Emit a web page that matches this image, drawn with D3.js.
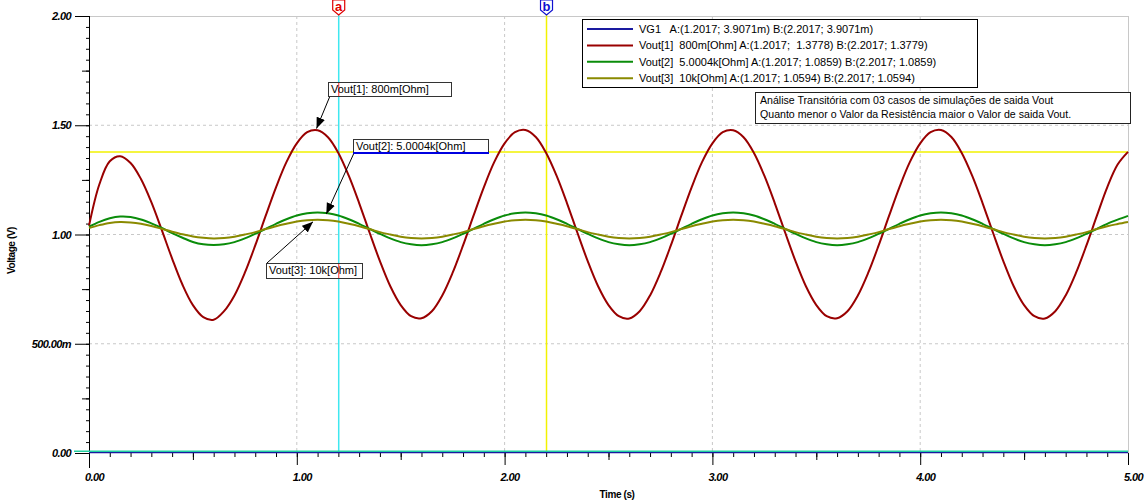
<!DOCTYPE html>
<html>
<head>
<meta charset="utf-8">
<script src="https://cdn.jsdelivr.net/npm/d3@7"></script>
<style>
    body { margin: 0; background: #fff; }
    svg { display: block; font-family: "Liberation Sans", Arial, sans-serif; }
    .tick-label { font-weight: bold; font-style: italic; font-size: 11px; letter-spacing: -0.6px; }
</style>
</head>
<body>
<div id="chart"></div>
<script>
// Sample times (s)
const times = [
    0.00, 0.05, 0.10, 0.15, 0.20, 0.25, 0.30, 0.35, 0.40, 0.45, 0.50, 0.55, 0.60, 0.65, 0.70, 0.75, 0.80, 0.85, 0.90, 0.95,
    1.00, 1.05, 1.10, 1.15, 1.20, 1.25, 1.30, 1.35, 1.40, 1.45, 1.50, 1.55, 1.60, 1.65, 1.70, 1.75, 1.80, 1.85, 1.90, 1.95,
    2.00, 2.05, 2.10, 2.15, 2.20, 2.25, 2.30, 2.35, 2.40, 2.45, 2.50, 2.55, 2.60, 2.65, 2.70, 2.75, 2.80, 2.85, 2.90, 2.95,
    3.00, 3.05, 3.10, 3.15, 3.20, 3.25, 3.30, 3.35, 3.40, 3.45, 3.50, 3.55, 3.60, 3.65, 3.70, 3.75, 3.80, 3.85, 3.90, 3.95,
    4.00, 4.05, 4.10, 4.15, 4.20, 4.25, 4.30, 4.35, 4.40, 4.45, 4.50, 4.55, 4.60, 4.65, 4.70, 4.75, 4.80, 4.85, 4.90, 4.95,
    5.00
];

// Vout[1] 800m[Ohm]
const vout1 = [
    1.040, 1.230, 1.335, 1.358, 1.327, 1.254, 1.148, 1.021, 0.890, 0.770, 0.677, 0.622, 0.610, 0.649, 0.721, 0.825, 0.950, 1.085, 1.216, 1.331,
    1.417, 1.468, 1.477, 1.445, 1.373, 1.269, 1.144, 1.009, 0.878, 0.763, 0.677, 0.626, 0.617, 0.649, 0.721, 0.825, 0.950, 1.085, 1.216, 1.331,
    1.417, 1.468, 1.478, 1.446, 1.373, 1.269, 1.144, 1.009, 0.878, 0.763, 0.677, 0.626, 0.616, 0.649, 0.721, 0.825, 0.950, 1.085, 1.216, 1.331,
    1.417, 1.468, 1.477, 1.445, 1.373, 1.269, 1.144, 1.009, 0.878, 0.763, 0.677, 0.626, 0.617, 0.649, 0.721, 0.825, 0.950, 1.085, 1.216, 1.331,
    1.417, 1.468, 1.478, 1.446, 1.373, 1.269, 1.144, 1.009, 0.878, 0.763, 0.677, 0.626, 0.616, 0.649, 0.721, 0.825, 0.950, 1.085, 1.216, 1.320,
    1.378
];

// Vout[2] 5.0004k[Ohm]
const vout2 = [
    1.036, 1.058, 1.074, 1.082, 1.080, 1.069, 1.051, 1.030, 1.006, 0.985, 0.966, 0.955, 0.952, 0.955, 0.965, 0.982, 1.003, 1.026, 1.049, 1.070,
    1.087, 1.097, 1.101, 1.097, 1.087, 1.070, 1.049, 1.026, 1.003, 0.982, 0.965, 0.955, 0.951, 0.955, 0.965, 0.982, 1.003, 1.026, 1.049, 1.070,
    1.087, 1.097, 1.101, 1.097, 1.087, 1.070, 1.049, 1.026, 1.003, 0.982, 0.965, 0.955, 0.951, 0.955, 0.965, 0.982, 1.003, 1.026, 1.049, 1.070,
    1.087, 1.097, 1.101, 1.097, 1.087, 1.070, 1.049, 1.026, 1.003, 0.982, 0.965, 0.955, 0.951, 0.955, 0.965, 0.982, 1.003, 1.026, 1.049, 1.070,
    1.087, 1.097, 1.101, 1.097, 1.087, 1.070, 1.049, 1.026, 1.003, 0.982, 0.965, 0.955, 0.951, 0.955, 0.965, 0.982, 1.003, 1.026, 1.049, 1.068,
    1.085
];

// Vout[3] 10k[Ohm]
const vout3 = [
    1.030, 1.043, 1.053, 1.057, 1.055, 1.049, 1.039, 1.026, 1.013, 1.001, 0.991, 0.985, 0.982, 0.984, 0.990, 1.000, 1.011, 1.025, 1.038, 1.049,
    1.059, 1.065, 1.067, 1.065, 1.059, 1.049, 1.038, 1.025, 1.011, 1.000, 0.990, 0.984, 0.982, 0.984, 0.990, 1.000, 1.011, 1.025, 1.038, 1.049,
    1.059, 1.065, 1.067, 1.065, 1.059, 1.049, 1.038, 1.025, 1.011, 1.000, 0.990, 0.984, 0.982, 0.984, 0.990, 1.000, 1.011, 1.025, 1.038, 1.049,
    1.059, 1.065, 1.067, 1.065, 1.059, 1.049, 1.038, 1.025, 1.011, 1.000, 0.990, 0.984, 0.982, 0.984, 0.990, 1.000, 1.011, 1.025, 1.038, 1.049,
    1.059, 1.065, 1.067, 1.065, 1.059, 1.049, 1.038, 1.025, 1.011, 1.000, 0.990, 0.984, 0.982, 0.984, 0.990, 1.000, 1.011, 1.025, 1.038, 1.048,
    1.057
];

// VG1 (flat, 3.9071m)
const vg1Times = [0, 5];
const vg1 = [0.0039071, 0.0039071];

// Axis ticks
const yTicks = [0, 0.5, 1.0, 1.5, 2.0];
const yTickLabels = ["0.00", "500.00m", "1.00", "1.50", "2.00"];
const xTicks = [0, 1, 2, 3, 4, 5];
const xTickLabels = ["0.00", "1.00", "2.00", "3.00", "4.00", "5.00"];

// Cursors
const cursorA = 1.2017;
const cursorB = 2.2017;
const cursorBLevel = 1.3779;

// Legend
const legendNames = ["VG1", "Vout[1]", "Vout[2]", "Vout[3]"];
const legendTexts = [
    "VG1   A:(1.2017; 3.9071m) B:(2.2017; 3.9071m)",
    "Vout[1]  800m[Ohm] A:(1.2017;  1.3778) B:(2.2017; 1.3779)",
    "Vout[2]  5.0004k[Ohm] A:(1.2017; 1.0859) B:(2.2017; 1.0859)",
    "Vout[3]  10k[Ohm] A:(1.2017; 1.0594) B:(2.2017; 1.0594)"
];
const noteLines = [
    "Análise Transitória com 03 casos de simulações de saida Vout",
    "Quanto menor o Valor da Resistência maior o Valor de saida Vout."
];

class TransientChart {
    constructor(parentElement) {
        this.parentElement = parentElement;
        this.initVis();
    }

    initVis() {
        let vis = this;

        vis.width = 1147;
        vis.height = 504;
        vis.plot = { left: 89, right: 1128, top: 16, bottom: 453 };

        vis.svg = d3.select("#" + vis.parentElement)
            .append("svg")
            .attr("width", vis.width)
            .attr("height", vis.height);

        vis.svg.append("defs").append("marker")
            .attr("id", "arrow")
            .attr("viewBox", "0 0 10 10")
            .attr("refX", 10)
            .attr("refY", 5)
            .attr("markerWidth", 11)
            .attr("markerHeight", 11)
            .attr("markerUnits", "userSpaceOnUse")
            .attr("orient", "auto")
            .append("path")
            .attr("d", "M0,1 L10,5 L0,9 Z")
            .attr("fill", "#000");

        vis.x = d3.scaleLinear().domain([0, 5]).range([vis.plot.left, vis.plot.right]);
        vis.y = d3.scaleLinear().domain([0, 2]).range([vis.plot.bottom, vis.plot.top]);

        vis.wrangleData();
    }

    wrangleData() {
        let vis = this;
        vis.series = [
            { name: "Vout[1]", color: "#990000", values: times.map((t, i) => ({ t: t, v: vout1[i] })) },
            { name: "Vout[2]", color: "#0a8c0a", values: times.map((t, i) => ({ t: t, v: vout2[i] })) },
            { name: "Vout[3]", color: "#8a8a00", values: times.map((t, i) => ({ t: t, v: vout3[i] })) }
        ];
        vis.vg1 = vg1Times.map((t, i) => ({ t: t, v: vg1[i] }));
        vis.updateVis();
    }

    updateVis() {
        let vis = this;
        const p = vis.plot;

        // Grid (dashed)
        vis.svg.append("g").selectAll("line")
            .data([1, 2, 3, 4])
            .enter().append("line")
            .attr("x1", d => vis.x(d)).attr("x2", d => vis.x(d))
            .attr("y1", p.top).attr("y2", p.bottom)
            .attr("stroke", "#c8c8c8").attr("stroke-dasharray", "3,3");
        vis.svg.append("g").selectAll("line")
            .data([0.5, 1.0, 1.5])
            .enter().append("line")
            .attr("x1", p.left).attr("x2", p.right)
            .attr("y1", d => vis.y(d)).attr("y2", d => vis.y(d))
            .attr("stroke", "#c8c8c8").attr("stroke-dasharray", "3,3");

        // Frame top / right
        vis.svg.append("line")
            .attr("x1", p.left).attr("x2", p.right).attr("y1", p.top + 0.5).attr("y2", p.top + 0.5)
            .attr("stroke", "#c8c8c8");
        vis.svg.append("line")
            .attr("x1", p.right + 0.5).attr("x2", p.right + 0.5).attr("y1", p.top).attr("y2", p.bottom)
            .attr("stroke", "#c8c8c8");

        // Cursor lines
        vis.svg.append("line")
            .attr("x1", p.left).attr("x2", p.right)
            .attr("y1", vis.y(cursorBLevel)).attr("y2", vis.y(cursorBLevel))
            .attr("stroke", "#f2f200").attr("stroke-width", 1.5);
        vis.svg.append("line")
            .attr("x1", vis.x(cursorA)).attr("x2", vis.x(cursorA))
            .attr("y1", 12).attr("y2", p.bottom)
            .attr("stroke", "#3ee8f0").attr("stroke-width", 1.5);
        vis.svg.append("line")
            .attr("x1", vis.x(cursorB)).attr("x2", vis.x(cursorB))
            .attr("y1", 12).attr("y2", p.bottom)
            .attr("stroke", "#f2f200").attr("stroke-width", 1.5);

        // Y axis
        let yMinor = d3.range(0, 41).map(i => i * 0.05);
        let yMid = [0.25, 0.75, 1.25, 1.75];
        vis.svg.append("g")
            .attr("transform", `translate(${p.left},0)`)
            .call(d3.axisLeft(vis.y).tickValues(yMinor).tickSize(3).tickFormat(""))
            .call(g => g.select(".domain").remove());
        vis.svg.append("g")
            .attr("transform", `translate(${p.left},0)`)
            .call(d3.axisLeft(vis.y).tickValues(yMid).tickSize(7).tickFormat(""))
            .call(g => g.select(".domain").remove());
        let yAxisGroup = vis.svg.append("g")
            .attr("transform", `translate(${p.left},0)`)
            .call(d3.axisLeft(vis.y).tickValues(yTicks).tickSize(14).tickPadding(4)
                .tickFormat((d, i) => yTickLabels[i]))
            .call(g => g.select(".domain").remove());
        yAxisGroup.selectAll("text")
            .attr("class", "tick-label")
            .attr("fill", "#000");
        vis.svg.append("line")
            .attr("x1", p.left + 0.5).attr("x2", p.left + 0.5)
            .attr("y1", p.top).attr("y2", 468)
            .attr("stroke", "#000");

        // X axis
        let xMinor = d3.range(0, 51).map(i => i * 0.1);
        let xMid = [0.5, 1.5, 2.5, 3.5, 4.5];
        vis.svg.append("g")
            .attr("transform", `translate(0,${p.bottom})`)
            .call(d3.axisBottom(vis.x).tickValues(xMinor).tickSize(4).tickFormat(""))
            .call(g => g.select(".domain").remove());
        vis.svg.append("g")
            .attr("transform", `translate(0,${p.bottom})`)
            .call(d3.axisBottom(vis.x).tickValues(xMid).tickSize(7).tickFormat(""))
            .call(g => g.select(".domain").remove());
        let xAxisGroup = vis.svg.append("g")
            .attr("transform", `translate(0,${p.bottom})`)
            .call(d3.axisBottom(vis.x).tickValues(xTicks).tickSize(12).tickPadding(8)
                .tickFormat((d, i) => xTickLabels[i]))
            .call(g => g.select(".domain").remove());
        xAxisGroup.selectAll("text")
            .attr("class", "tick-label")
            .attr("fill", "#000")
            .attr("x", 5);

        // Axis titles
        vis.svg.append("text")
            .attr("transform", `translate(15,${(p.top + p.bottom) / 2 + 16}) rotate(-90)`)
            .attr("text-anchor", "middle")
            .style("font-size", "10px")
            .style("font-weight", "bold")
            .style("letter-spacing", "-0.4px")
            .text("Voltage (V)");
        vis.svg.append("text")
            .attr("x", 617)
            .attr("y", 498)
            .attr("text-anchor", "middle")
            .style("font-size", "10px")
            .style("font-weight", "bold")
            .style("letter-spacing", "-0.4px")
            .text("Time (s)");

        // Curves
        let line = d3.line()
            .x(d => vis.x(d.t))
            .y(d => vis.y(d.v))
            .curve(d3.curveCatmullRom);

        vis.svg.append("path")
            .datum(vis.vg1)
            .attr("d", line)
            .attr("fill", "none")
            .attr("stroke", "#1a1aa0")
            .attr("stroke-width", 2);
        vis.svg.append("line")
            .attr("x1", 74).attr("x2", p.right)
            .attr("y1", vis.y(vg1[0]) - 1).attr("y2", vis.y(vg1[0]) - 1)
            .attr("stroke", "#20d0a0").attr("stroke-width", 1.5);

        vis.svg.selectAll(".curve")
            .data(vis.series)
            .enter().append("path")
            .attr("class", "curve")
            .attr("d", d => line(d.values))
            .attr("fill", "none")
            .attr("stroke", d => d.color)
            .attr("stroke-width", 2);

        // Cursor markers
        let markers = [
            { t: cursorA, label: "a", color: "#e00000" },
            { t: cursorB, label: "b", color: "#1010d0" }
        ];
        let mk = vis.svg.selectAll(".marker")
            .data(markers)
            .enter().append("g")
            .attr("class", "marker")
            .attr("transform", d => `translate(${vis.x(d.t)},0)`);
        mk.append("path")
            .attr("d", "M-6,0 L6,0 L6,10 L0,15 L-6,10 Z")
            .attr("fill", "#fff")
            .attr("stroke", d => d.color)
            .attr("stroke-width", 1.2);
        mk.append("text")
            .attr("y", 11)
            .attr("text-anchor", "middle")
            .style("font-size", "13px")
            .style("font-weight", "bold")
            .attr("fill", d => d.color)
            .text(d => d.label);

        // Legend
        let legendColors = { "VG1": "#1a1aa0", "Vout[1]": "#990000", "Vout[2]": "#0a8c0a", "Vout[3]": "#8a8a00" };
        vis.svg.append("rect")
            .attr("x", 582.5).attr("y", 19.5)
            .attr("width", 395).attr("height", 68)
            .attr("fill", "#fff").attr("stroke", "#000");
        let lg = vis.svg.selectAll(".legend")
            .data(legendNames)
            .enter().append("g")
            .attr("class", "legend")
            .attr("transform", (d, i) => `translate(0,${29 + i * 16.4})`);
        lg.append("line")
            .attr("x1", 587).attr("x2", 633)
            .attr("stroke", d => legendColors[d])
            .attr("stroke-width", 2);
        lg.append("text")
            .attr("x", 639)
            .attr("dy", "0.35em")
            .style("font-size", "11px")
            .style("white-space", "pre")
            .attr("fill", "#000")
            .text((d, i) => legendTexts[i]);

        // Note box
        vis.svg.append("rect")
            .attr("x", 755.5).attr("y", 92.5)
            .attr("width", 375).attr("height", 31)
            .attr("fill", "#fff").attr("stroke", "#222");
        vis.svg.selectAll(".note")
            .data(noteLines)
            .enter().append("text")
            .attr("class", "note")
            .attr("x", 760)
            .attr("y", (d, i) => 104 + i * 14)
            .style("font-size", "10.6px")
            .attr("fill", "#000")
            .text(d => d);

        // Curve labels with arrows
        let labels = [
            { text: "Vout[1]: 800m[Ohm]", box: [328, 82, 123, 14], from: [330, 96], to: [1.095, 1.485], blue: false },
            { text: "Vout[2]: 5.0004k[Ohm]", box: [353, 139, 135, 14], from: [354, 153], to: [1.142, 1.094], blue: true },
            { text: "Vout[3]: 10k[Ohm]", box: [266, 263, 96, 15], from: [267, 263], to: [1.078, 1.058], blue: false }
        ];
        labels.forEach(l => {
            vis.svg.append("line")
                .attr("x1", l.from[0]).attr("y1", l.from[1])
                .attr("x2", vis.x(l.to[0])).attr("y2", vis.y(l.to[1]))
                .attr("stroke", "#000")
                .attr("marker-end", "url(#arrow)");
            vis.svg.append("rect")
                .attr("x", l.box[0] + 0.5).attr("y", l.box[1] + 0.5)
                .attr("width", l.box[2]).attr("height", l.box[3])
                .attr("fill", "#fff").attr("stroke", "#333");
            if (l.blue) {
                vis.svg.append("line")
                    .attr("x1", l.box[0]).attr("x2", l.box[0] + l.box[2] + 1)
                    .attr("y1", l.box[1] + l.box[3]).attr("y2", l.box[1] + l.box[3])
                    .attr("stroke", "#0000e0").attr("stroke-width", 2);
            }
            // cursor seen through the label box
            let cx = vis.x(cursorA);
            if (cx > l.box[0] && cx < l.box[0] + l.box[2]) {
                vis.svg.append("line")
                    .attr("x1", cx).attr("x2", cx)
                    .attr("y1", l.box[1] + 1).attr("y2", l.box[1] + l.box[3])
                    .attr("stroke", "#ff5050").attr("stroke-width", 1.2);
            }
            vis.svg.append("text")
                .attr("x", l.box[0] + 3)
                .attr("y", l.box[1] + l.box[3] / 2)
                .attr("dy", "0.36em")
                .style("font-size", "11px")
                .attr("fill", "#000")
                .text(l.text);
        });
    }
}

new TransientChart("chart");
</script>
</body>
</html>
